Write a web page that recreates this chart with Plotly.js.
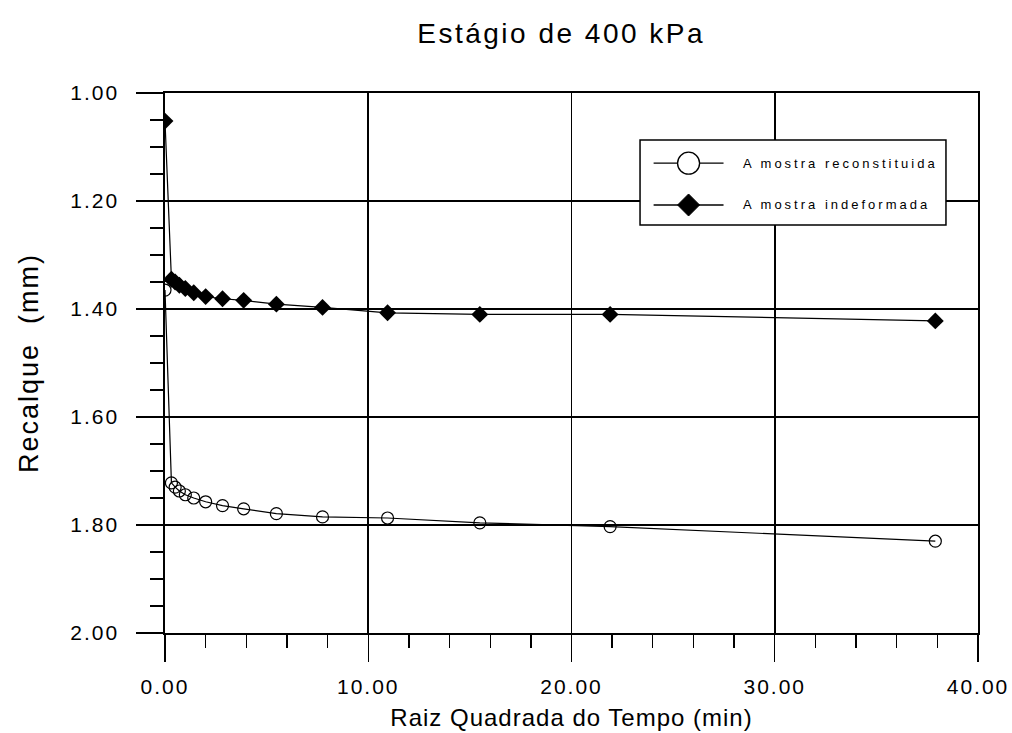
<!DOCTYPE html>
<html>
<head>
<meta charset="utf-8">
<script src="https://cdn.plot.ly/plotly-3.0.1.min.js"></script>
<style>
  html, body { margin: 0; padding: 0; background: #ffffff; }
  #chart { width: 1012px; height: 733px; }
</style>
</head>
<body>
<div id="chart"></div>
<script>
// Square root of elapsed time (min^0.5) for each reading
const raizTempo = [0, 0.316, 0.5, 0.707, 1.0, 1.414, 2.0, 2.83, 3.87, 5.48, 7.75, 10.95, 15.49, 21.9, 37.9];

// Settlement (mm) for each sample
const recalqueReconstituida = [1.365, 1.722, 1.730, 1.737, 1.744, 1.750, 1.757, 1.764, 1.770, 1.779, 1.785, 1.787, 1.796, 1.803, 1.830];
const recalqueIndeformada  = [1.052, 1.345, 1.350, 1.356, 1.362, 1.370, 1.377, 1.381, 1.384, 1.391, 1.397, 1.407, 1.410, 1.410, 1.422];

const nomesSeries = ['A mostra reconstituida', 'A mostra indeformada'];

// Tick values and their labels
const xTicks = [0, 10, 20, 30, 40];
const xTickLabels = ['0.00', '10.00', '20.00', '30.00', '40.00'];
const yTicks = [1.0, 1.2, 1.4, 1.6, 1.8, 2.0];
const yTickLabels = ['1.00', '1.20', '1.40', '1.60', '1.80', '2.00'];

const fonte = 'Liberation Sans, Arial, sans-serif';
const espacado = (t, px) => '<span style="letter-spacing:' + px + 'px">' + t + '</span>';

const traces = [
  {
    x: raizTempo, y: recalqueReconstituida, name: nomesSeries[0],
    type: 'scatter', mode: 'lines+markers', showlegend: false,
    line: { color: '#000', width: 1.2 },
    marker: { symbol: 'circle-open', size: 12, color: '#000', line: { width: 1.2, color: '#000' } }
  },
  {
    x: raizTempo, y: recalqueIndeformada, name: nomesSeries[1],
    type: 'scatter', mode: 'lines+markers', showlegend: false,
    line: { color: '#000', width: 1.2 },
    marker: { symbol: 'diamond', size: 13, color: '#000' }
  }
];

// Legend box drawn in paper coordinates
const lx0 = 0.5843, lx1 = 0.9606, ly0 = 0.7556, ly1 = 0.913;
const row1 = 0.870, row2 = 0.7926;
const symX0 = 0.601, symX1 = 0.687, symXc = 0.644;

const shapes = [
  { type: 'rect', xref: 'paper', yref: 'paper', x0: lx0, x1: lx1, y0: ly0, y1: ly1,
    line: { color: '#000', width: 1.5 }, fillcolor: '#fff', layer: 'above' },
  { type: 'line', xref: 'paper', yref: 'paper', x0: symX0, x1: symX1, y0: row1, y1: row1,
    line: { color: '#000', width: 1.3 }, layer: 'above' },
  { type: 'line', xref: 'paper', yref: 'paper', x0: symX0, x1: symX1, y0: row2, y1: row2,
    line: { color: '#000', width: 1.3 }, layer: 'above' },
  { type: 'circle', xref: 'paper', yref: 'paper', xsizemode: 'pixel', ysizemode: 'pixel',
    xanchor: symXc, yanchor: row1, x0: -11, x1: 11, y0: -11, y1: 11,
    line: { color: '#000', width: 1.3 }, fillcolor: '#fff', layer: 'above' },
  { type: 'path', xref: 'paper', yref: 'paper', xsizemode: 'pixel', ysizemode: 'pixel',
    xanchor: symXc, yanchor: row2,
    path: 'M -11 0 L 0 11 L 11 0 L 0 -11 Z',
    line: { color: '#000', width: 1 }, fillcolor: '#000', layer: 'above' }
];

const annotations = nomesSeries.map((nome, i) => ({
  xref: 'paper', yref: 'paper', x: 0.708, y: i === 0 ? row1 : row2,
  xanchor: 'left', yanchor: 'middle', showarrow: false,
  text: espacado(nome, 3), font: { family: fonte, size: 13, color: '#000' }
}));

const layout = {
  width: 1012, height: 733,
  margin: { l: 165, r: 34, t: 93, b: 100 },
  paper_bgcolor: '#fff', plot_bgcolor: '#fff',
  title: {
    text: espacado('Estágio de 400 kPa', 2.5),
    font: { family: fonte, size: 28, color: '#000' },
    x: 0.5545, xanchor: 'center', y: 0.955, yanchor: 'middle'
  },
  xaxis: {
    range: [0, 40], tickmode: 'array', tickvals: xTicks,
    ticktext: xTickLabels.map(t => espacado(t, 2)),
    showgrid: true, gridcolor: '#000', gridwidth: 1.6,
    zeroline: false, showline: true, linecolor: '#000', linewidth: 1.6, mirror: true,
    ticks: 'outside', ticklen: 27, tickcolor: '#000', tickwidth: 1.4,
    ticklabelstandoff: 7,
    minor: { tickmode: 'linear', tick0: 0, dtick: 2, ticks: 'outside', ticklen: 13, tickcolor: '#000', tickwidth: 1.4, showgrid: false },
    tickfont: { family: fonte, size: 21, color: '#000' },
    title: { text: espacado('Raiz Quadrada do Tempo (min)', 1), font: { family: fonte, size: 24, color: '#000' }, standoff: 12 }
  },
  yaxis: {
    range: [2.0, 1.0], tickmode: 'array', tickvals: yTicks,
    ticktext: yTickLabels.map(t => espacado(t, 2)),
    showgrid: true, gridcolor: '#000', gridwidth: 1.6,
    zeroline: false, showline: true, linecolor: '#000', linewidth: 1.6, mirror: true,
    ticks: 'outside', ticklen: 27, tickcolor: '#000', tickwidth: 1.4,
    ticklabelstandoff: 13,
    minor: { tickmode: 'linear', tick0: 1.0, dtick: 0.05, ticks: 'outside', ticklen: 13, tickcolor: '#000', tickwidth: 1.4, showgrid: false },
    tickfont: { family: fonte, size: 21, color: '#000' },
    title: { text: espacado('Recalque  (mm)', 2), font: { family: fonte, size: 27, color: '#000' }, standoff: 24 }
  },
  shapes: shapes,
  annotations: annotations,
  showlegend: false
};

Plotly.newPlot('chart', traces, layout, { staticPlot: true, displayModeBar: false });
</script>
</body>
</html>
